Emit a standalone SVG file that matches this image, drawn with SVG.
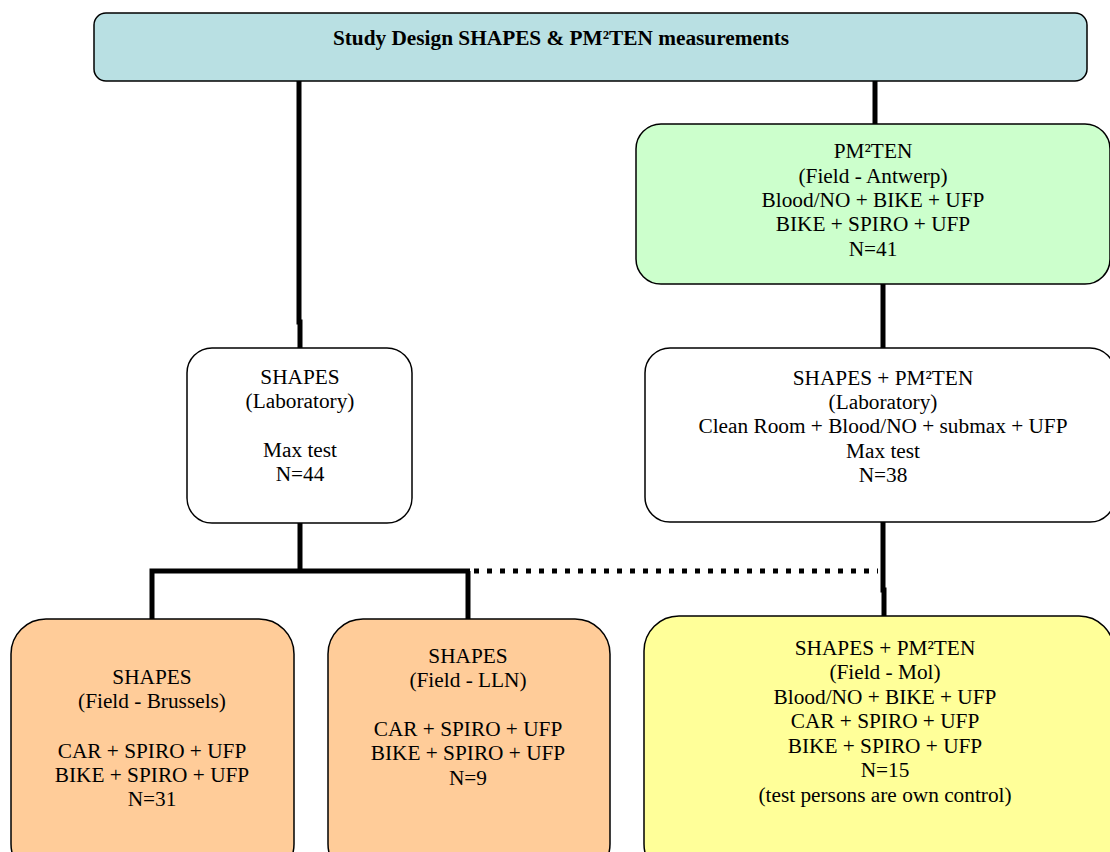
<svg xmlns="http://www.w3.org/2000/svg" width="1110" height="852" viewBox="0 0 1110 852">
<style>
.box{stroke:#000;stroke-width:1.5}
.t{font-family:"Liberation Serif","Times New Roman",serif;font-size:21.3px;fill:#000;text-anchor:middle}
.b{font-weight:bold;font-size:21.3px}
.c{stroke:#000;stroke-width:5;fill:none}
.d{stroke:#000;stroke-width:5;fill:none;stroke-dasharray:5 8}
</style>
<rect width="1110" height="852" fill="#fff"/>
<g id="connectors">
<polyline class="c" points="299,81 299,322 300,322 300,348"/>
<line class="c" x1="875" y1="81" x2="875" y2="124"/>
<line class="c" x1="883" y1="284" x2="883" y2="348"/>
<line class="c" x1="300" y1="523" x2="300" y2="571"/>
<polyline class="c" points="152,619 152,571 470,571"/>
<line class="c" x1="468" y1="571" x2="468" y2="619"/>
<line class="d" x1="474" y1="571" x2="878" y2="571"/>
<polyline class="c" points="883,522 883,590 884,590 884,616"/>
</g>
<g id="title">
<rect class="box" x="94" y="13" width="993" height="68" rx="12" fill="#b9e0e3"/>
<text class="t b" x="561" y="45">Study Design SHAPES &amp; PM²TEN measurements</text>
</g>
<g id="pm2ten-antwerp">
<rect class="box" x="636" y="124" width="474" height="160" rx="25" fill="#ccffcc"/>
<text class="t" x="873" y="158">PM²TEN</text>
<text class="t" x="873" y="183">(Field - Antwerp)</text>
<text class="t" x="873" y="207">Blood/NO + BIKE + UFP</text>
<text class="t" x="873" y="231">BIKE + SPIRO + UFP</text>
<text class="t" x="873" y="256">N=41</text>
</g>
<g id="shapes-lab">
<rect class="box" x="187" y="348" width="225" height="175" rx="25" fill="#fff"/>
<text class="t" x="300" y="384">SHAPES</text>
<text class="t" x="300" y="408">(Laboratory)</text>
<text class="t" x="300" y="457">Max test</text>
<text class="t" x="300" y="481">N=44</text>
</g>
<g id="shapes-pm2ten-lab">
<rect class="box" x="645" y="348" width="470" height="174" rx="25" fill="#fff"/>
<text class="t" x="883" y="385">SHAPES + PM²TEN</text>
<text class="t" x="883" y="409">(Laboratory)</text>
<text class="t" x="883" y="433">Clean Room + Blood/NO + submax + UFP</text>
<text class="t" x="883" y="458">Max test</text>
<text class="t" x="883" y="482">N=38</text>
</g>
<g id="shapes-brussels">
<rect class="box" x="11" y="619" width="283" height="260" rx="35" fill="#ffcc99"/>
<text class="t" x="152" y="684">SHAPES</text>
<text class="t" x="152" y="708">(Field - Brussels)</text>
<text class="t" x="152" y="758">CAR + SPIRO + UFP</text>
<text class="t" x="152" y="782">BIKE + SPIRO + UFP</text>
<text class="t" x="152" y="806">N=31</text>
</g>
<g id="shapes-lln">
<rect class="box" x="328" y="619" width="282" height="260" rx="35" fill="#ffcc99"/>
<text class="t" x="468" y="663">SHAPES</text>
<text class="t" x="468" y="687">(Field - LLN)</text>
<text class="t" x="468" y="736">CAR + SPIRO + UFP</text>
<text class="t" x="468" y="760">BIKE + SPIRO + UFP</text>
<text class="t" x="468" y="785">N=9</text>
</g>
<g id="shapes-pm2ten-mol">
<rect class="box" x="644" y="616" width="470" height="263" rx="35" fill="#ffff99"/>
<text class="t" x="885" y="655">SHAPES + PM²TEN</text>
<text class="t" x="885" y="679">(Field - Mol)</text>
<text class="t" x="885" y="704">Blood/NO + BIKE + UFP</text>
<text class="t" x="885" y="728">CAR + SPIRO + UFP</text>
<text class="t" x="885" y="753">BIKE + SPIRO + UFP</text>
<text class="t" x="885" y="777">N=15</text>
<text class="t" x="885" y="802">(test persons are own control)</text>
</g>
</svg>
